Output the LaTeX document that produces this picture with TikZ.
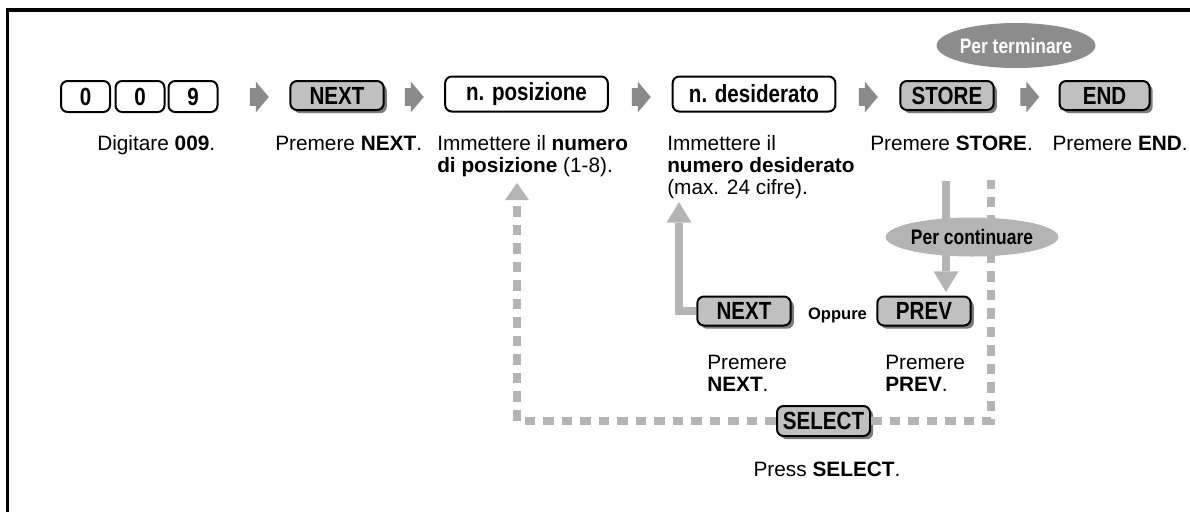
\documentclass[tikz,border=0pt]{standalone}
\usepackage{fontspec}
\setmainfont{Liberation Sans}
\newfontfamily\condfont{Liberation Sans}[FakeStretch=0.83]
\usetikzlibrary{shapes.geometric,shapes.arrows,arrows.meta,shadows}
\definecolor{btngray}{HTML}{C0C0C0}
\definecolor{shadowgray}{HTML}{7A7A7A}
\definecolor{linegray}{HTML}{B4B4B4}
\definecolor{chevgray}{HTML}{8A8A8A}
\definecolor{ovalgray}{HTML}{8C8C8C}
\begin{document}
\begin{tikzpicture}[x=0.75pt,y=-0.75pt,
  captxt/.style={font=\fontsize{15.6}{16.8}\selectfont, inner sep=0pt, align=left},
  labtxt/.style={font=\fontsize{18.6}{20}\selectfont\condfont\bfseries},
  wbox/.style={labtxt, draw=black, line width=1.5pt, rounded corners=5pt, fill=white, inner sep=0pt},
  gbox/.style={wbox, fill=btngray, minimum width=70pt, minimum height=21.75pt,
     drop shadow={shadow xshift=2.4pt, shadow yshift=-2.4pt, fill=shadowgray, opacity=1}},
  digbox/.style={wbox, minimum width=36.75pt, minimum height=23.25pt},
  nbox/.style={wbox, minimum width=122pt, minimum height=26.25pt},
  chev/.style={shape=single arrow, fill=chevgray, draw=none, inner xsep=0pt, inner ysep=6.4pt,
     minimum height=14.25pt, single arrow head extend=5pt, single arrow tip angle=100, anchor=tail},
  solidarr/.style={draw=linegray, line width=6.5pt, line join=miter,
     -{Triangle[length=15.5pt,width=18.75pt,line width=0pt]}},
  dasharr/.style={draw=linegray, line width=6pt, dash pattern=on 7.9pt off 6pt},
  ovalnode/.style={shape=ellipse, inner sep=0pt, font=\fontsize{15.75}{18}\selectfont\condfont\bfseries},
]
\useasboundingbox (0,0) rectangle (1190,512);
% frame
\draw[line width=2.6pt] (7.3,512) -- (7.3,10) -- (1190,10);

% top row
\node[digbox] (d1) at (85.5,96.5) {0};
\node[digbox] (d2) at (140,96.5) {0};
\node[digbox] (d3) at (193,96.5) {9};
\node[chev] (a1) at (249.5,97) {};
\node[gbox] (next) at (337,95.5) {NEXT};
\node[chev] (a2) at (404.5,97) {};
\node[nbox] (pos) at (526.5,94) {n. posizione};
\node[chev] (a3) at (631.5,97) {};
\node[nbox] (des) at (754,94) {n. desiderato};
\node[chev] (a4) at (858.5,97) {};
\node[gbox] (store) at (947,95.5) {STORE};
\node[chev] (a5) at (1020,97) {};
\node[gbox, minimum width=67.5pt] (end) at (1104.5,95.5) {END};

% captions
\node[captxt, anchor=base west] (c1) at (97,150) {Digitare \textbf{009}.};
\node[captxt, anchor=base west] (c2) at (275,150) {Premere \textbf{NEXT}.};
\node[captxt, anchor=north west] (c3) at (437,134.7) {Immettere il \textbf{numero}\\\textbf{di posizione} (1-8).};
\node[captxt, anchor=north west] (c4) at (667,134.7) {Immettere il\\\textbf{numero desiderato}\\(max. 24 cifre).};
\node[captxt, anchor=base west] (c5) at (870,150) {Premere \textbf{STORE}.};
\node[captxt, anchor=base east] (c6) at (1188,150) {Premere \textbf{END}.};

% lower part
\node[gbox] (next2) at (744,311) {NEXT};
\node[font=\fontsize{12.4}{14}\selectfont\bfseries, inner sep=0pt] (or) at (837.5,315) {Oppure};
\node[gbox] (prev) at (924,311) {PREV};
\node[captxt, anchor=north west] (c7) at (707,355) {Premere\\\textbf{NEXT}.};
\node[captxt, anchor=north west] (c8) at (885,355) {Premere\\\textbf{PREV}.};
\node[gbox, minimum width=69.75pt, minimum height=22.5pt] (select) at (823.5,421) {SELECT};
\node[captxt, anchor=base] (c9) at (827,476) {Press \textbf{SELECT}.};

% connectors
\coordinate (utip) at (679,202);
\coordinate (dtop) at (946,181);
\coordinate (dtip) at (946,292);
\coordinate (ltip) at (517,183);
\coordinate (rtop) at (991,180);
\draw[dasharr, -{Triangle[length=12.75pt,width=18pt,line width=0pt]}] (select.west) -| (ltip);
\draw[dasharr] (select.east) -| (rtop);
\draw[solidarr] (next2.west) -| (utip);
\draw[solidarr] (dtop) -- (dtip);

% ovals
\node[ovalnode, fill=ovalgray, text=white, minimum width=110pt, minimum height=33.75pt] (term) at (1016,45.5) {Per terminare};
\node[ovalnode, fill=linegray, minimum width=116.25pt, minimum height=29.25pt] (cont) at (972,237) {Per continuare};
\end{tikzpicture}
\end{document}
